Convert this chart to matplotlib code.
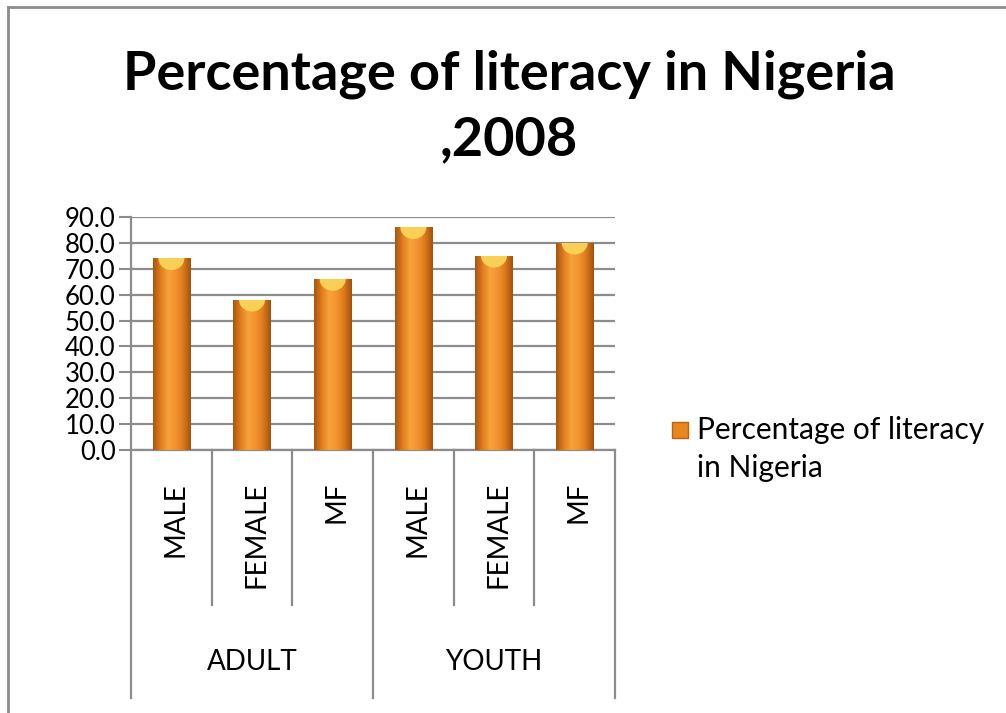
import matplotlib
matplotlib.use("Agg")
import matplotlib.pyplot as plt
import numpy as np
from matplotlib.colors import LinearSegmentedColormap
from matplotlib.lines import Line2D
from matplotlib.patches import Ellipse, Rectangle

groups = ["ADULT", "YOUTH"]
categories = ["MALE", "FEMALE", "MF", "MALE", "FEMALE", "MF"]
values = [74.0, 58.0, 66.0, 86.0, 75.0, 80.0]
series_label = "Percentage of literacy\nin Nigeria"
title = "Percentage of literacy in Nigeria\n,2008"
yticks = [0, 10, 20, 30, 40, 50, 60, 70, 80, 90]

W, H = 1006, 713
GRAY = "#8c8c8c"
FONT = "Lato"

fig = plt.figure(figsize=(W / 100, H / 100), dpi=100)
ax = fig.add_axes([131 / W, 1 - 450 / H, (615 - 131) / W, (450 - 217) / H])

x = np.arange(len(values))
bar_w = 0.46
bars = ax.bar(x, values, width=bar_w, color="#ec8a26", zorder=3, linewidth=0)

# cylinder shading: dark edges, bright left-of-centre
cyl = LinearSegmentedColormap.from_list(
    "cyl", ["#a9560f", "#e07d1e", "#f7a23a", "#f39330", "#dc7a1c", "#a3520e"])
grad = np.linspace(0, 1, 64).reshape(1, -1)
for rect, xi, v in zip(bars, x, values):
    im = ax.imshow(grad, cmap=cyl, aspect="auto", zorder=3.5,
                   extent=[xi - bar_w / 2, xi + bar_w / 2, 0, v])
    im.set_clip_path(rect)
    cap = Ellipse((xi, v), bar_w * 0.7, 9.0, facecolor="#f9cf55",
                  edgecolor="none", zorder=4)
    ax.add_patch(cap)
    cap.set_clip_path(rect)

ax.set_xlim(-0.5, len(values) - 0.5)
ax.set_ylim(0, 90)
ax.set_yticks(yticks)
ax.set_yticklabels([f"{t:.1f}" for t in yticks], fontsize=18.5, family=FONT)
ax.tick_params(axis="y", length=9, width=1.5, color=GRAY, pad=2)
ax.set_xticks([])
ax.grid(axis="y", color=GRAY, linewidth=1.6, zorder=0)
ax.set_axisbelow(True)
for side in ["top", "right"]:
    ax.spines[side].set_visible(False)
for side in ["left", "bottom"]:
    ax.spines[side].set_color(GRAY)
    ax.spines[side].set_linewidth(1.6)

# two-level category axis
trans = ax.get_xaxis_transform()
inner_depth = (450 - 605) / (450 - 217)
outer_depth = (450 - 698) / (450 - 217)
n_per_group = len(categories) // len(groups)
for b in np.arange(len(values) + 1) - 0.5:
    depth = outer_depth if round(b + 0.5) % n_per_group == 0 else inner_depth
    ax.add_line(Line2D([b, b], [0, depth], transform=trans, color=GRAY,
                       linewidth=1.6, clip_on=False))
for xi, cat in zip(x, categories):
    ax.text(xi + 0.05, (450 - 482) / (450 - 217), cat, transform=trans, rotation=90,
            ha="center", va="top", fontsize=20, family=FONT)
for gi, grp in enumerate(groups):
    xc = gi * n_per_group + (n_per_group - 1) / 2
    ax.text(xc, (450 - 662) / (450 - 217), grp, transform=trans,
            ha="center", va="center", fontsize=20, family=FONT)

fig.text(0.506, 1 - 107 / H, title, ha="center", va="center", fontsize=39,
         fontweight="bold", family=FONT, linespacing=1.42)

# legend, drawn by hand so the key sits on the first text line
fig.add_artist(Rectangle((672 / W, 1 - 438 / H), 16 / W, 16 / H,
                         transform=fig.transFigure, facecolor="#e8861f",
                         edgecolor="#b9620f", linewidth=1))
fig.text(697 / W, 1 - 477 / H, series_label, ha="left", va="baseline",
         fontsize=21.5, family=FONT, linespacing=1.45)

# chart-area border (only top and left visible)
fig.add_artist(Line2D([8 / W, 1], [1 - 7 / H] * 2, transform=fig.transFigure,
                      color=GRAY, linewidth=2))
fig.add_artist(Line2D([8 / W] * 2, [0, 1 - 7 / H], transform=fig.transFigure,
                      color=GRAY, linewidth=2))

fig.savefig("out.png", dpi=100)
